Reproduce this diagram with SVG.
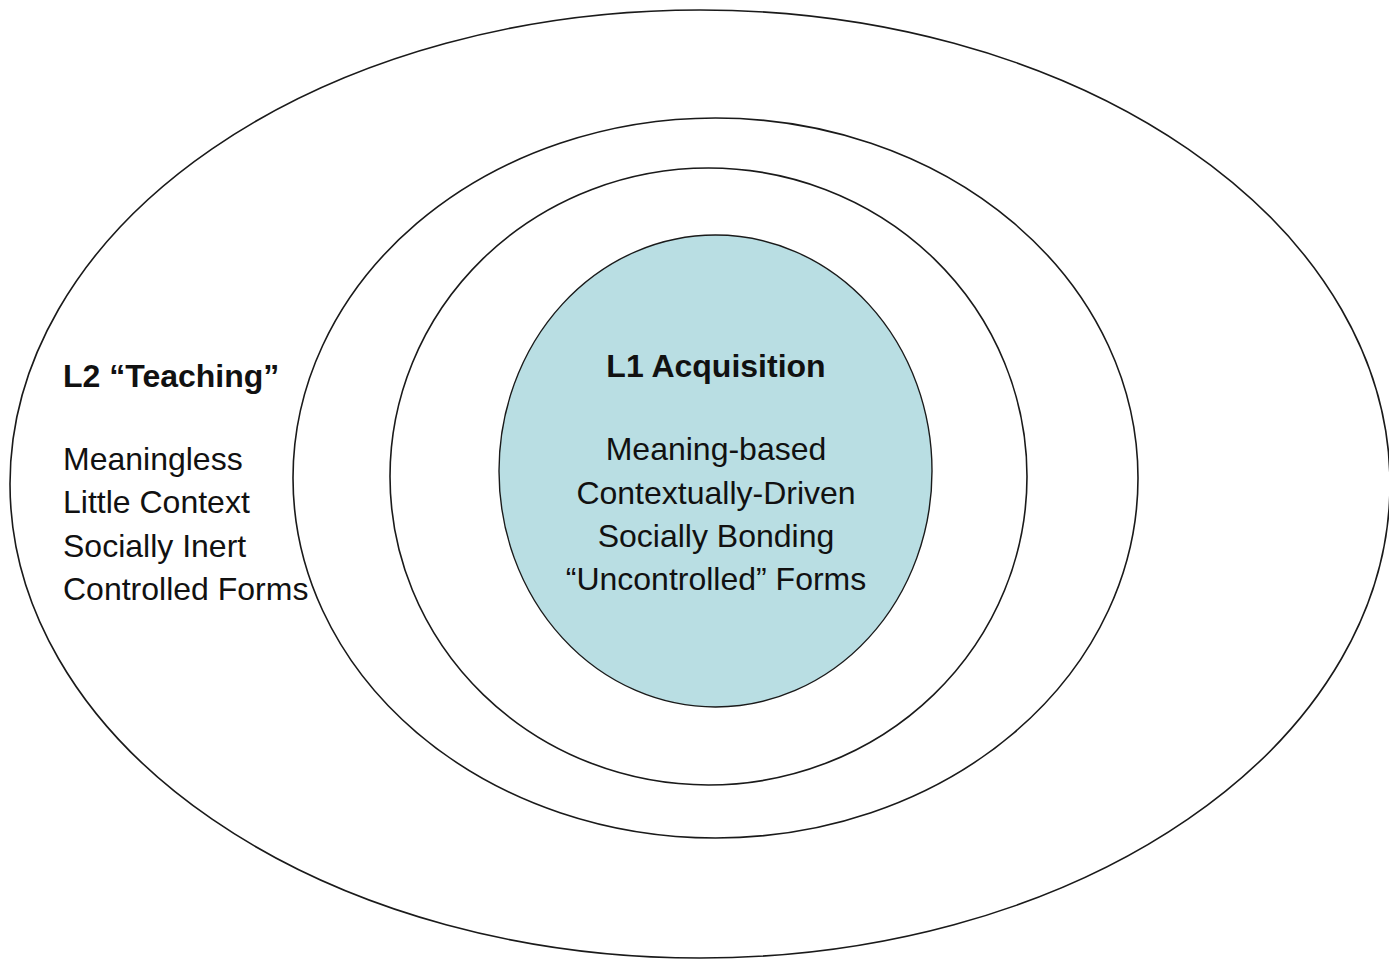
<svg xmlns="http://www.w3.org/2000/svg" width="1389" height="960" viewBox="0 0 1389 960">
<style>
.ring{fill:none;stroke:#1a1a1a;stroke-width:1.6}
.core{fill:#b9dee3;stroke:#1a1a1a;stroke-width:1.4}
.t{font-family:"Liberation Sans",Arial,sans-serif;font-size:32px;fill:#111}
.b{font-weight:bold}
</style>
<rect width="1389" height="960" fill="#fff"/>
<g id="outer-ring"><ellipse class="ring" cx="700" cy="484" rx="690" ry="474"/></g>
<g id="second-ring"><ellipse class="ring" cx="715.5" cy="478" rx="422.5" ry="360"/></g>
<g id="third-ring"><ellipse class="ring" cx="708.5" cy="476.5" rx="318.5" ry="308.5"/></g>
<g id="l1-core">
<ellipse class="core" cx="715.5" cy="471" rx="216.5" ry="236"/>
<text class="t b" x="716" y="377" text-anchor="middle">L1 Acquisition</text>
<text class="t" x="716" text-anchor="middle"><tspan x="716" y="460">Meaning-based</tspan><tspan x="716" y="503.5">Contextually-Driven</tspan><tspan x="716" y="547">Socially Bonding</tspan><tspan x="716" y="590">“Uncontrolled” Forms</tspan></text>
</g>
<g id="l2-label">
<text class="t b" x="63" y="387">L2 “Teaching”</text>
<text class="t"><tspan x="63" y="470">Meaningless</tspan><tspan x="63" y="513.3">Little Context</tspan><tspan x="63" y="556.7">Socially Inert</tspan><tspan x="63" y="600">Controlled Forms</tspan></text>
</g>
<g id="connectors"/>
</svg>
